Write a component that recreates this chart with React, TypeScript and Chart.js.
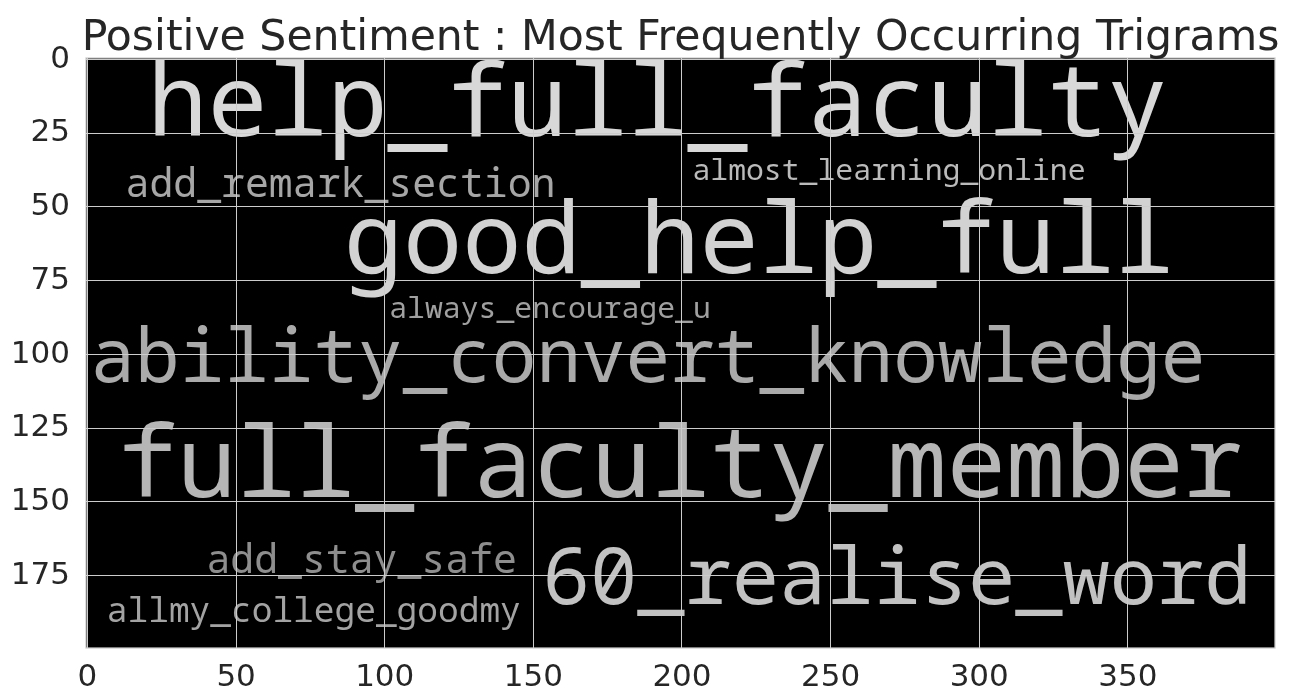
import { useEffect, useRef } from "react";
import { Chart, registerables } from "chart.js";

Chart.register(...registerables);

// Word cloud content (image pixel coordinates of a 400x200 image)
const words = [
  "help_full_faculty",
  "add_remark_section",
  "almost_learning_online",
  "good_help_full",
  "always_encourage_u",
  "ability_convert_knowledge",
  "full_faculty_member",
  "add_stay_safe",
  "allmy_college_goodmy",
  "60_realise_word",
];
const wordX = [20.2, 12.8, 203.5, 86.2, 101.5, 1.0, 10.3, 40.0, 6.5, 153.2];
const wordY = [25.8, 46.6, 40.9, 72.4, 87.6, 109.2, 148.4, 174.1, 190.8, 184.7];
const wordSize = [33.9, 13.5, 10.1, 33.5, 10.1, 25.2, 33.45, 13.5, 11.7, 26.7];
const wordShade = [216, 166, 187, 210, 160, 170, 182, 142, 163, 194];

const xTicks = [0, 50, 100, 150, 200, 250, 300, 350];
const yTicks = [0, 25, 50, 75, 100, 125, 150, 175];
const chartTitle = "Positive Sentiment : Most Frequently Occurring Trigrams";

const imagePlugin = {
  id: "wordImage",
  beforeDraw(chart: any) {
    const { ctx, chartArea } = chart;
    ctx.save();
    ctx.fillStyle = "#000000";
    ctx.fillRect(chartArea.left, chartArea.top, chartArea.right - chartArea.left, chartArea.bottom - chartArea.top);
    ctx.restore();
  },
  afterDatasetsDraw(chart: any) {
    const { ctx, chartArea } = chart;
    const meta = chart.getDatasetMeta(0);
    const ys = chart.scales.y;
    const unit = Math.abs(ys.getPixelForValue(1) - ys.getPixelForValue(0));
    ctx.save();
    ctx.beginPath();
    ctx.rect(chartArea.left, chartArea.top, chartArea.right - chartArea.left, chartArea.bottom - chartArea.top);
    ctx.clip();
    ctx.textAlign = "left";
    ctx.textBaseline = "alphabetic";
    meta.data.forEach((el: any, i: number) => {
      const s = wordShade[i];
      ctx.fillStyle = `rgb(${s},${s},${s})`;
      ctx.font = `${wordSize[i] * unit}px "Noto Sans Mono", "DejaVu Sans Mono", monospace`;
      ctx.fillText(words[i], el.x, el.y);
    });
    ctx.restore();
  },
  afterDraw(chart: any) {
    const { ctx, chartArea } = chart;
    ctx.save();
    ctx.strokeStyle = "#cccccc";
    ctx.lineWidth = 1.25;
    ctx.strokeRect(chartArea.left, chartArea.top, chartArea.right - chartArea.left, chartArea.bottom - chartArea.top);
    // title, centred over the plot area
    ctx.fillStyle = "#262626";
    ctx.font = '42.6px "DejaVu Sans"';
    ctx.textAlign = "center";
    ctx.textBaseline = "alphabetic";
    ctx.fillText(chartTitle, (chartArea.left + chartArea.right) / 2, chartArea.top - 8);
    ctx.restore();
  },
};

export default function App() {
  const ref = useRef<HTMLCanvasElement>(null);

  useEffect(() => {
    if (!ref.current) return;
    const chart = new Chart(ref.current, {
      type: "scatter",
      data: {
        datasets: [
          {
            data: words.map((_, i) => ({ x: wordX[i], y: wordY[i] })),
            pointRadius: 0,
            pointHoverRadius: 0,
          },
        ],
      },
      options: {
        animation: false,
        responsive: false,
        events: [],
        layout: { padding: { left: 0, right: 18, top: 58, bottom: 0 } },
        plugins: {
          legend: { display: false },
          tooltip: { enabled: false },
          title: { display: false },
        },
        scales: {
          x: {
            type: "linear",
            min: -0.5,
            max: 399.5,
            afterFit(scale: any) {
              scale.height = 44;
            },
            afterBuildTicks(scale: any) {
              scale.ticks = xTicks.map((v) => ({ value: v }));
            },
            ticks: {
              color: "#262626",
              font: { family: "DejaVu Sans", size: 31 },
              padding: 11,
              maxRotation: 0,
              callback: (v: any) => String(v),
            },
            grid: { color: "#cccccc", lineWidth: 1, drawTicks: false, z: 1 },
            border: { display: false },
          },
          y: {
            type: "linear",
            reverse: true,
            min: -0.5,
            max: 199.5,
            afterFit(scale: any) {
              scale.width = 86;
            },
            afterBuildTicks(scale: any) {
              scale.ticks = yTicks.map((v) => ({ value: v }));
            },
            ticks: {
              color: "#262626",
              font: { family: "DejaVu Sans", size: 31 },
              padding: 16,
              callback: (v: any) => String(v),
            },
            grid: { color: "#cccccc", lineWidth: 1, drawTicks: false, z: 1 },
            border: { display: false },
          },
        },
      },
      plugins: [imagePlugin],
    });
    return () => chart.destroy();
  }, []);

  return (
    <div style={{ position: "absolute", left: 0, top: 0, width: 1293, height: 692, background: "#ffffff" }}>
      <canvas ref={ref} width={1293} height={692} />
    </div>
  );
}
